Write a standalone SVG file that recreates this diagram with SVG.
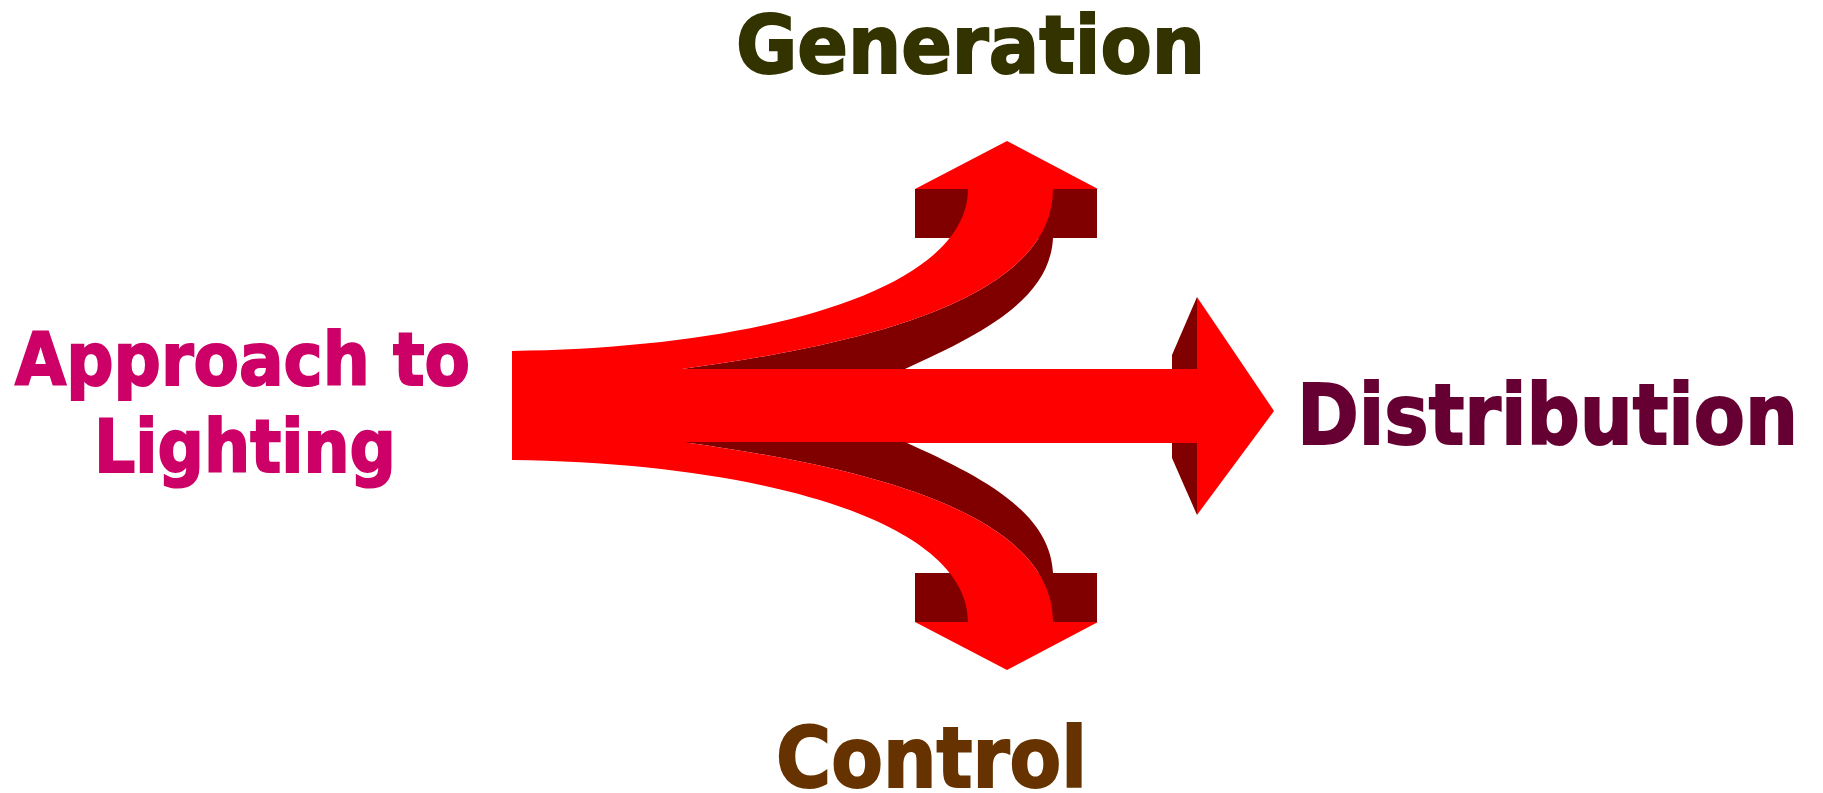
<svg xmlns="http://www.w3.org/2000/svg" xmlns:xlink="http://www.w3.org/1999/xlink" width="1823" height="793" viewBox="0 0 1823 793">
  <style>
    .lbl { font-family: "DejaVu Sans", "Verdana", sans-serif; font-weight: bold; stroke-width: 2; stroke-linejoin: miter; }
    .face { fill: #FF0000; }
    .side { fill: #800000; }
  </style>
  <defs>
    <!-- upper curved branch: side faces first, then the front face -->
    <g id="branch">
      <rect class="side" x="915" y="189" width="182" height="49"/>
      <path class="side" d="M 682,369 C 860,345 1053,300 1053,189 L 1053,238 C 1050,300 980,335 905,369 Z"/>
      <path class="face" d="M 512,351 C 760,348 968,290 968,189 L 1053,189 C 1053,300 860,345 682,369 L 682,406 L 512,406 Z"/>
      <polygon class="face" points="915,189 1007,141 1098,189"/>
    </g>
  </defs>
  <rect x="0" y="0" width="1823" height="793" fill="#FFFFFF"/>

  <g id="connectors">
    <g id="arrow-distribution">
      <polygon class="side" points="1197,297 1172,355 1172,458 1197,515"/>
      <rect class="face" x="512" y="369" width="690" height="74"/>
      <polygon class="face" points="1197,297 1274,411 1197,515"/>
    </g>
    <g id="arrow-generation">
      <use xlink:href="#branch"/>
    </g>
    <g id="arrow-control" transform="translate(0,811) scale(1,-1)">
      <use xlink:href="#branch"/>
    </g>
  </g>

  <g id="node-approach" fill="#CC0066" stroke="#CC0066">
    <text class="lbl" x="15" y="385" font-size="73" textLength="455" lengthAdjust="spacingAndGlyphs">Approach to</text>
    <text class="lbl" x="94" y="472" font-size="73" textLength="302" lengthAdjust="spacingAndGlyphs">Lighting</text>
  </g>
  <g id="node-generation" fill="#333300" stroke="#333300">
    <text class="lbl" x="736" y="73" font-size="81" textLength="469" lengthAdjust="spacingAndGlyphs">Generation</text>
  </g>
  <g id="node-distribution" fill="#660033" stroke="#660033">
    <text class="lbl" x="1297" y="444" font-size="84" textLength="501" lengthAdjust="spacingAndGlyphs">Distribution</text>
  </g>
  <g id="node-control" fill="#663300" stroke="#663300">
    <text class="lbl" x="776" y="787" font-size="84" textLength="311" lengthAdjust="spacingAndGlyphs">Control</text>
  </g>
</svg>
